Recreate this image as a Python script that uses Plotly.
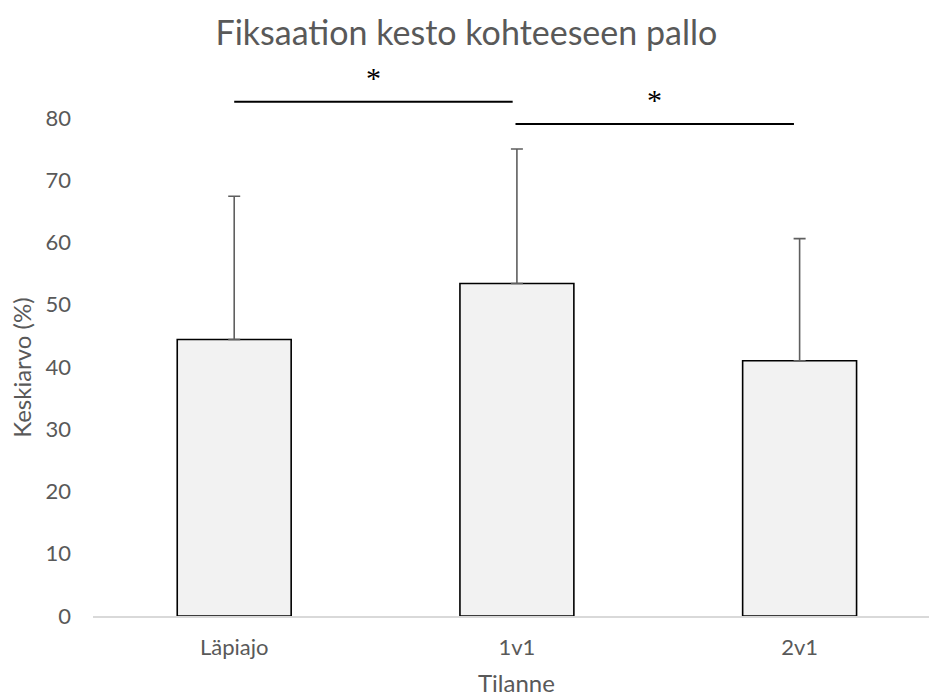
import plotly.graph_objects as go

# Mean fixation duration on the ball target per game situation
categories = ["Läpiajo", "1v1", "2v1"]
means = [44.4, 53.4, 41.0]
sd_plus = [23.0, 21.6, 19.6]
y_ticks = [0, 10, 20, 30, 40, 50, 60, 70, 80]

# Pairwise significance brackets: (from index, to index, height, star height)
sig_pairs = [(0.0, 0.985, 82.6, 86.4), (0.995, 1.98, 79.0, 83.0)]

x_pos = list(range(len(categories)))

fig = go.Figure()
fig.add_trace(go.Bar(
    x=x_pos,
    y=means,
    width=0.403,
    marker=dict(color="#F2F2F2", line=dict(color="#000000", width=1.6)),
    error_y=dict(
        type="data",
        symmetric=False,
        array=sd_plus,
        arrayminus=[0] * len(means),
        color="#5F5F5F",
        thickness=1.6,
        width=6,
    ),
    hoverinfo="skip",
))

for x0, x1, yl, ys in sig_pairs:
    fig.add_shape(type="line", xref="x", yref="y", x0=x0, x1=x1, y0=yl, y1=yl,
                  line=dict(color="#000000", width=2))
    fig.add_annotation(x=(x0 + x1) / 2, y=ys, xref="x", yref="y", text="*",
                       showarrow=False, yanchor="middle",
                       font=dict(family="Liberation Serif", size=30, color="#000000"))

axis_font = dict(family="Lato", size=22, color="#595959")

fig.add_annotation(text="Keskiarvo (%)", xref="paper", yref="y", x=-0.085, y=40,
                   textangle=-90, showarrow=False, xanchor="center",
                   font=dict(family="Lato", size=24, color="#595959"))
fig.add_annotation(text="Tilanne", xref="x", yref="paper", x=1, y=-0.122,
                   showarrow=False, yanchor="middle",
                   font=dict(family="Lato", size=24, color="#595959"))

fig.update_layout(
    width=929,
    height=698,
    paper_bgcolor="#FFFFFF",
    plot_bgcolor="#FFFFFF",
    showlegend=False,
    margin=dict(l=93, r=0, t=68, b=82),
    title=dict(text="Fiksaation kesto kohteeseen pallo", x=0.502, xref="container",
               y=0.953, yanchor="middle", xanchor="center",
               font=dict(family="Lato", size=34, color="#595959")),
    xaxis=dict(
        range=[-0.4995, 2.4577],
        tickvals=x_pos,
        ticktext=categories,
        showgrid=False,
        zeroline=False,
        showline=True,
        linecolor="#D9D9D9",
        linewidth=1.5,
        ticks="",
        ticklabelstandoff=11,
        tickfont=axis_font,
    ),
    yaxis=dict(
        range=[0, 88],
        tickvals=y_ticks,
        showgrid=False,
        zeroline=False,
        showline=False,
        ticks="",
        ticklabelstandoff=21,
        tickfont=axis_font,
    ),
)

fig.write_html("out.html")
